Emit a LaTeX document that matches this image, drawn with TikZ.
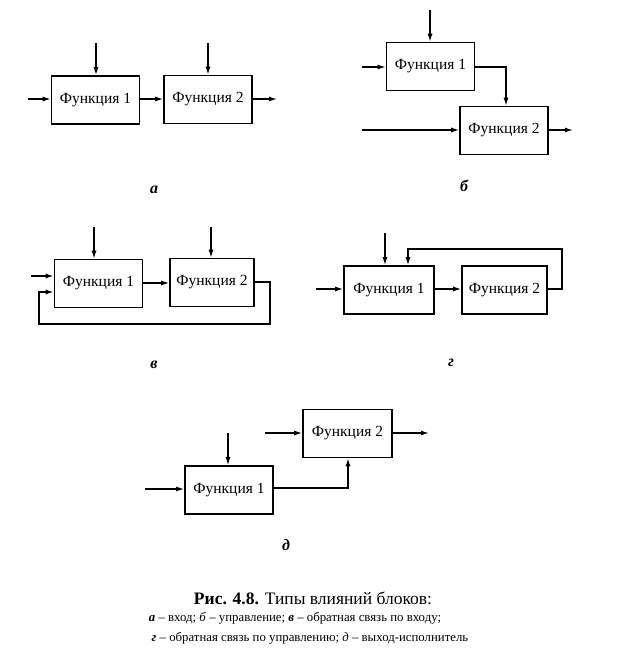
\documentclass[tikz,border=0pt]{standalone}
\usepackage{fontspec}
\setmainfont{Liberation Serif}
\usetikzlibrary{arrows.meta}
\begin{document}
\begin{tikzpicture}[x=1pt,y=-1pt,
  fbox/.style={draw,line width=1.6pt,minimum width=88pt,minimum height=48pt,inner sep=0pt,font=\fontsize{15.5}{15.5}\selectfont},
  conn/.style={line width=1.3pt,-{Latex[length=8pt,width=5pt]}},
  lbl/.style={font=\fontsize{16}{16}\selectfont\bfseries\itshape},
  captxt/.style={font=\fontsize{12.8}{12.8}\selectfont}]
\useasboundingbox (0,0) rectangle (616,656);
% ---- a ----
\node[fbox] (a1) at (95.5,100) {Функция 1};
\node[fbox] (a2) at (208,99.5) {Функция 2};
\coordinate (a1in) at (28,99);
\coordinate (a1ctl) at (96,43);
\coordinate (a2ctl) at (208,43);
\coordinate (a2out) at (277,99);
\draw[conn] (a1in) -- (a1in -| a1.west);
\draw[conn] (a1ctl) -- (a1ctl |- a1.north);
\draw[conn] (a2ctl) -- (a2ctl |- a2.north);
\draw[conn] (a1.east |- a1in) -- (a2.west |- a1in);
\draw[conn] (a2.east |- a2out) -- (a2out);
\node[lbl] (la) at (154,190) {а};
% ---- б ----
\node[fbox] (b1) at (430.5,66.5) {Функция 1};
\node[fbox] (b2) at (504,130.5) {Функция 2};
\coordinate (b1in) at (362,67);
\coordinate (b1ctl) at (430,10);
\coordinate (b12) at (506,67);
\coordinate (b2in) at (362,130);
\coordinate (b2out) at (573,130);
\draw[conn] (b1in) -- (b1in -| b1.west);
\draw[conn] (b1ctl) -- (b1ctl |- b1.north);
\draw[conn] (b1.east |- b12) -- (b12) -- (b12 |- b2.north);
\draw[conn] (b2in) -- (b2in -| b2.west);
\draw[conn] (b2.east |- b2out) -- (b2out);
\node[lbl] (lb) at (464,186) {б};
% ---- в ----
\node[fbox] (c1) at (98.5,283.5) {Функция 1};
\node[fbox,minimum width=84pt] (c2) at (212,282.5) {Функция 2};
\coordinate (c1in) at (31,276);
\coordinate (c1ctl) at (94,227);
\coordinate (c2ctl) at (211,227);
\coordinate (cmid) at (0,283);
\coordinate (cfb1) at (270,282);
\coordinate (cfb2) at (270,324);
\coordinate (cfb3) at (39,324);
\coordinate (cfb4) at (39,292);
\draw[conn] (c1in) -- (c1in -| c1.west);
\draw[conn] (c1ctl) -- (c1ctl |- c1.north);
\draw[conn] (c2ctl) -- (c2ctl |- c2.north);
\draw[conn] (c1.east |- cmid) -- (c2.west |- cmid);
\draw[conn] (c2.east |- cfb1) -- (cfb1) -- (cfb2) -- (cfb3) -- (cfb4) -- (cfb4 -| c1.west);
\node[lbl] (lc) at (154,365) {в};
% ---- г ----
\node[fbox,minimum width=90pt] (d1) at (389,290) {Функция 1};
\node[fbox,minimum width=85pt] (d2) at (504.5,290) {Функция 2};
\coordinate (d1in) at (316,289);
\coordinate (d1ctl) at (385,233);
\coordinate (dfb1) at (562,289);
\coordinate (dfb2) at (562,249);
\coordinate (dfb3) at (408,249);
\draw[conn] (d1in) -- (d1in -| d1.west);
\draw[conn] (d1ctl) -- (d1ctl |- d1.north);
\draw[conn] (d1.east |- d1in) -- (d2.west |- d1in);
\draw[conn] (d2.east |- dfb1) -- (dfb1) -- (dfb2) -- (dfb3) -- (dfb3 |- d1.north);
\node[lbl] (ld) at (451,363) {г};
% ---- д ----
\node[fbox] (e1) at (229,490) {Функция 1};
\node[fbox,minimum width=89pt] (e2) at (347.5,433.5) {Функция 2};
\coordinate (e1in) at (145,489);
\coordinate (e1ctl) at (228,433);
\coordinate (eup) at (348,488);
\coordinate (e2in) at (265,433);
\coordinate (e2out) at (429,433);
\draw[conn] (e1in) -- (e1in -| e1.west);
\draw[conn] (e1ctl) -- (e1ctl |- e1.north);
\draw[conn] (e1.east |- eup) -- (eup) -- (eup |- e2.south);
\draw[conn] (e2in) -- (e2in -| e2.west);
\draw[conn] (e2.east |- e2out) -- (e2out);
\node[lbl] (le) at (286,545) {д};
% ---- caption ----
\node[font=\fontsize{17.5}{17.5}\selectfont] (cap1) at (313,598) {\textbf{Рис. 4.8.} Типы влияний блоков:};
\node[captxt] (cap2) at (295,618) {\textbf{\textit{а}} – вход; \textit{б} – управление; \textbf{\textit{в}} – обратная связь по входу;};
\node[captxt] (cap3) at (310,638) {\textbf{\textit{г}} – обратная связь по управлению; \textit{д} – выход-исполнитель};
\end{tikzpicture}
\end{document}
